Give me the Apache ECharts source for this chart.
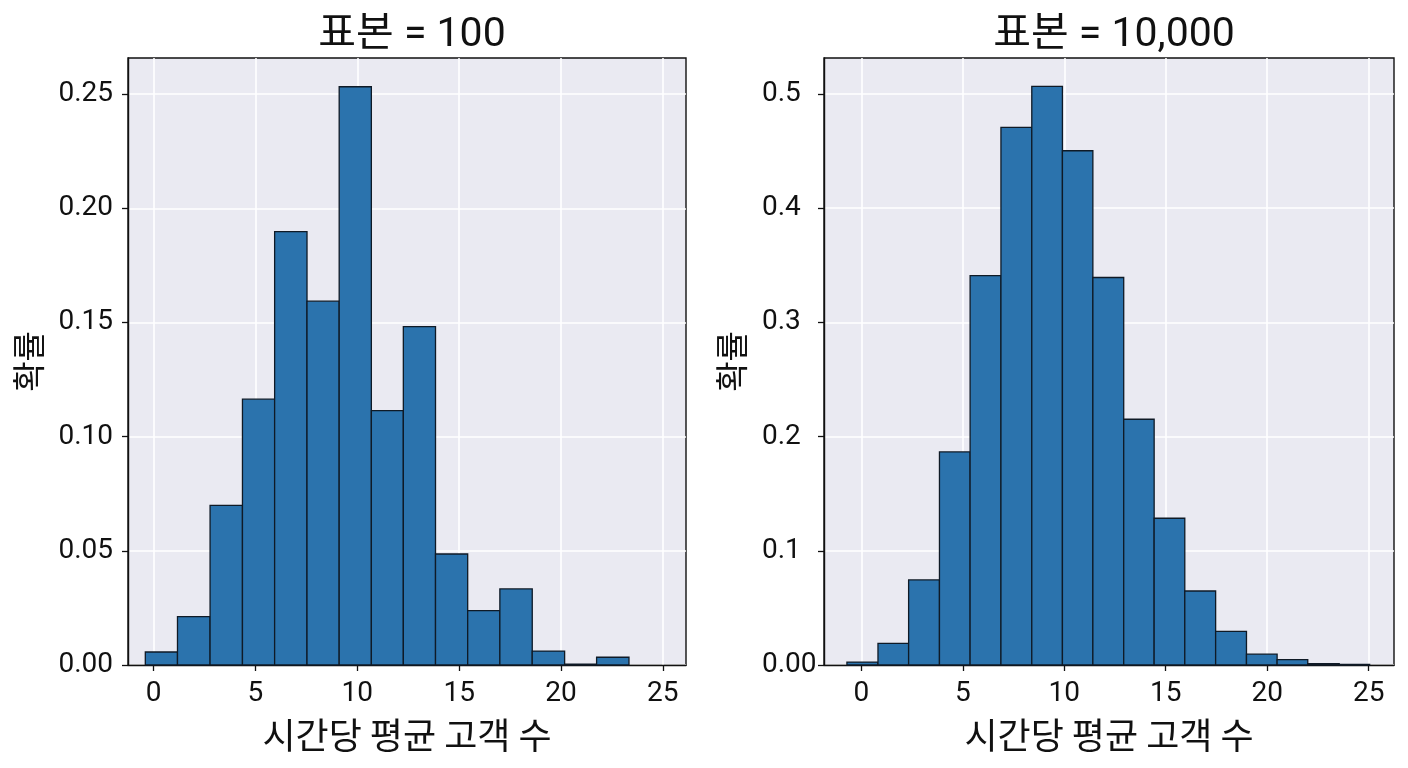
<!DOCTYPE html>
<html>
<head>
<meta charset="utf-8">
<script src="https://cdn.jsdelivr.net/npm/echarts@6/dist/echarts.min.js"></script>
<style>
  html, body { margin: 0; padding: 0; background: #ffffff; }
  #chart { width: 1408px; height: 768px; }
</style>
</head>
<body>
<div id="chart"></div>
<script>
// ---- data ----
const titleLeft = '표본 = 100';
const titleRight = '표본 = 10,000';
const xName = '시간당 평균 고객 수';
const yName = '확률';

const leftEdges = [-0.41, 1.17, 2.77, 4.36, 5.94, 7.53, 9.11, 10.69, 12.26, 13.84, 15.42, 17.00, 18.59, 20.18, 21.75, 23.34];
const leftHeights = [0.0057, 0.0212, 0.0699, 0.1164, 0.1898, 0.1593, 0.2532, 0.1114, 0.1482, 0.0486, 0.0238, 0.0333, 0.0061, 0.0004, 0.0034];

const rightEdges = [-0.71, 0.82, 2.33, 3.85, 5.36, 6.88, 8.40, 9.91, 11.41, 12.93, 14.43, 15.94, 17.46, 18.98, 20.49, 22.00, 23.55, 25.05];
const rightHeights = [0.0026, 0.0190, 0.0745, 0.1866, 0.3410, 0.4708, 0.5067, 0.4503, 0.3393, 0.2152, 0.1285, 0.0648, 0.0295, 0.0095, 0.0047, 0.0012, 0.0005];

const xTicks = [0, 5, 10, 15, 20, 25];
const leftYTicks = [0, 0.05, 0.10, 0.15, 0.20, 0.25];
const leftYLabels = ['0.00', '0.05', '0.10', '0.15', '0.20', '0.25'];
const rightYTicks = [0, 0.1, 0.2, 0.3, 0.4, 0.5];
const rightYLabels = ['0.00', '0.1', '0.2', '0.3', '0.4', '0.5'];

// ---- build ----
function bins(edges, heights) {
  return heights.map((h, i) => [edges[i], edges[i + 1], h]);
}

const FONT = 'Roboto, "Noto Sans CJK KR", sans-serif';
const KFONT = '"Noto Sans CJK KR", Roboto, sans-serif';
const BAR = '#2b73ad';
const EDGE = '#0f1a26';
const INK = '#111111';

function labelFor(ticks, labels) {
  return v => {
    for (let i = 0; i < ticks.length; i++) {
      if (Math.abs(ticks[i] - v) < 1e-9) return labels[i];
    }
    return '';
  };
}

function xAxisOpt(gridIndex, min, max) {
  return {
    type: 'value', gridIndex, min, max,
    name: xName, nameLocation: 'middle', nameGap: 52,
    nameTextStyle: { fontFamily: KFONT, fontSize: 36, color: INK },
    axisLine: { show: true, onZero: false, lineStyle: { color: INK, width: 1.4 } },
    axisTick: { show: true, inside: false, length: 6, lineStyle: { color: INK, width: 1.3 }, customValues: xTicks },
    axisLabel: { show: true, margin: 15, fontFamily: FONT, fontSize: 28, color: INK, customValues: xTicks,
                 formatter: v => String(v) },
    splitLine: { show: true, lineStyle: { color: '#ffffff', width: 1.6 }, customValues: xTicks }
  };
}

function yAxisOpt(gridIndex, max, ticks, labels, labelAlign, labelMargin, nameGap) {
  return {
    type: 'value', gridIndex, min: 0, max,
    name: yName, nameLocation: 'middle', nameRotate: 90, nameGap,
    nameTextStyle: { fontFamily: KFONT, fontSize: 33, color: INK },
    axisLine: { show: true, onZero: false, lineStyle: { color: INK, width: 1.4 } },
    axisTick: { show: true, inside: false, length: 6, lineStyle: { color: INK, width: 1.3 }, customValues: ticks },
    axisLabel: { show: true, align: labelAlign, margin: labelMargin, fontFamily: FONT, fontSize: 28, color: INK,
                 customValues: ticks, formatter: labelFor(ticks, labels) },
    splitLine: { show: true, lineStyle: { color: '#ffffff', width: 1.6 }, customValues: ticks }
  };
}

function histSeries(idx, data) {
  return {
    type: 'custom', xAxisIndex: idx, yAxisIndex: idx,
    encode: { x: [0, 1], y: 2 },
    data,
    renderItem: (params, api) => {
      const p0 = api.coord([api.value(0), api.value(2)]);
      const p1 = api.coord([api.value(1), 0]);
      return {
        type: 'rect',
        shape: { x: p0[0], y: p0[1], width: p1[0] - p0[0], height: p1[1] - p0[1] },
        style: { fill: BAR, stroke: EDGE, lineWidth: 1.3 }
      };
    },
    z: 3, silent: true
  };
}

const chart = echarts.init(document.getElementById('chart'), null, { renderer: 'canvas' });
chart.setOption({
  backgroundColor: '#ffffff',
  animation: false,
  title: [
    { text: titleLeft, left: 407, top: 10, textAlign: 'center',
      textStyle: { fontFamily: FONT, fontSize: 41, fontWeight: 'normal', color: INK } },
    { text: titleRight, left: 1109, top: 10, textAlign: 'center',
      textStyle: { fontFamily: FONT, fontSize: 41, fontWeight: 'normal', color: INK } }
  ],
  grid: [
    { left: 128, top: 58, width: 558, height: 607, show: true, backgroundColor: '#EAEAF2', borderColor: INK, borderWidth: 1.4 },
    { left: 824, top: 58, width: 570, height: 607, show: true, backgroundColor: '#EAEAF2', borderColor: INK, borderWidth: 1.4 }
  ],
  xAxis: [ xAxisOpt(0, -1.26, 26.14), xAxisOpt(1, -1.84, 26.25) ],
  yAxis: [
    yAxisOpt(0, 0.2658, leftYTicks, leftYLabels, 'right', 15, 83),
    yAxisOpt(1, 0.5315, rightYTicks, rightYLabels, 'left', 62, 76)
  ],
  series: [ histSeries(0, bins(leftEdges, leftHeights)), histSeries(1, bins(rightEdges, rightHeights)) ]
});
</script>
</body>
</html>
